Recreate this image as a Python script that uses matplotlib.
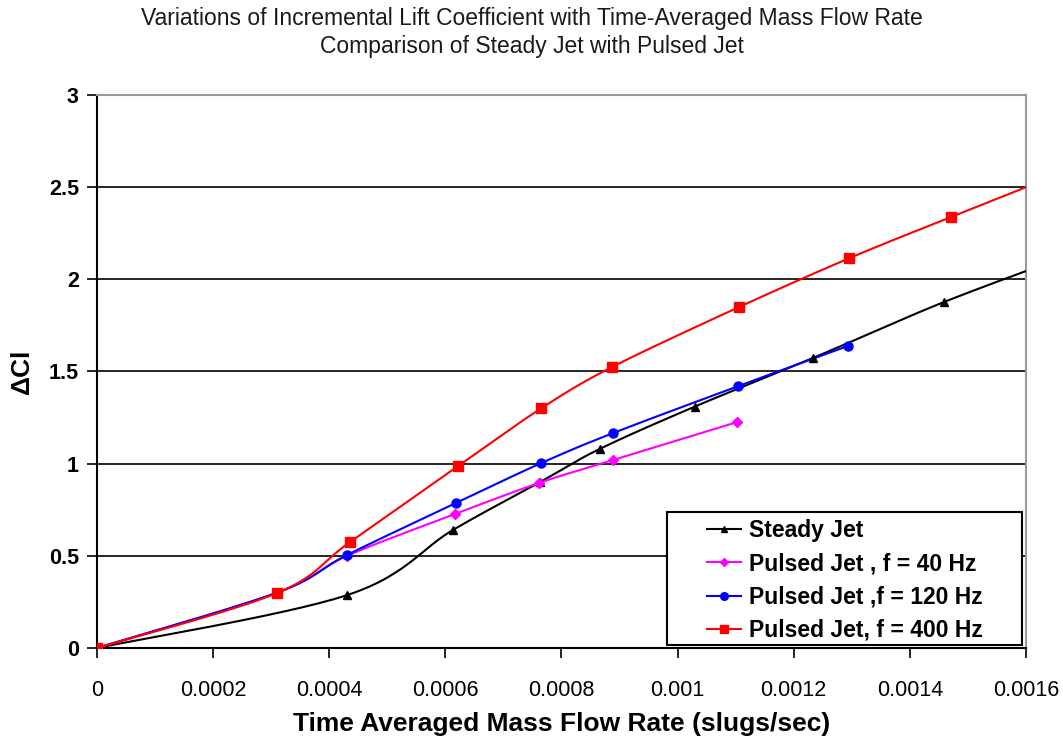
import numpy as np
import matplotlib
matplotlib.use("Agg")
import matplotlib.pyplot as plt
from matplotlib.patches import Rectangle

plt.rcParams['font.family'] = ['Liberation Sans', 'DejaVu Sans']

# Data
steady_x = [0.0, 0.000431, 0.000613, 0.000763, 0.000866, 0.00103, 0.001233, 0.001459, 0.00170]
steady_y = [0.0, 0.287, 0.64, 0.90, 1.08, 1.31, 1.573, 1.877, 2.16]

p40_x = [0.0, 0.00031, 0.000431, 0.000617, 0.000761, 0.000889, 0.001102]
p40_y = [0.0, 0.30, 0.50, 0.727, 0.895, 1.02, 1.225]

p120_x = [0.0, 0.00031, 0.000431, 0.000618, 0.000765, 0.000889, 0.001104, 0.001293]
p120_y = [0.0, 0.30, 0.505, 0.786, 1.003, 1.166, 1.42, 1.638]

p400_x = [0.0, 0.00031, 0.000436, 0.000622, 0.000765, 0.000887, 0.001106, 0.001296, 0.00147, 0.00170]
p400_y = [0.0, 0.298, 0.575, 0.987, 1.30, 1.524, 1.85, 2.115, 2.337, 2.625]

labels = ["Steady Jet", "Pulsed Jet , f = 40 Hz", "Pulsed Jet ,f = 120 Hz", "Pulsed Jet, f = 400 Hz"]
colors = ["black", "#FF00FF", "#0000FF", "#FF0000"]
markers = ["^", "D", "o", "s"]
msizes = [6, 5, 6.5, 7]

xticks = [0, 0.0002, 0.0004, 0.0006, 0.0008, 0.001, 0.0012, 0.0014, 0.0016]
xticklabels = ["0", "0.0002", "0.0004", "0.0006", "0.0008", "0.001", "0.0012", "0.0014", "0.0016"]
yticks = [0, 0.5, 1, 1.5, 2, 2.5, 3]
yticklabels = ["0", "0.5", "1", "1.5", "2", "2.5", "3"]


def smooth(xs, ys, n=30):
    """Excel-style smoothed line (cubic Bezier with Catmull-Rom control points)."""
    P = np.column_stack([xs, ys]).astype(float)
    out = []
    m = len(P)
    for i in range(m - 1):
        p0 = P[i - 1] if i > 0 else P[i]
        p1 = P[i]
        p2 = P[i + 1]
        p3 = P[i + 2] if i + 2 < m else P[i + 1]
        c1 = p1 + (p2 - p0) / 6.0
        c2 = p2 - (p3 - p1) / 6.0
        t = np.linspace(0, 1, n)[:, None]
        seg = ((1 - t) ** 3) * p1 + 3 * ((1 - t) ** 2) * t * c1 + 3 * (1 - t) * t ** 2 * c2 + t ** 3 * p2
        out.append(seg if i == 0 else seg[1:])
    S = np.vstack(out)
    return S[:, 0], S[:, 1]


fig = plt.figure(figsize=(10.63, 7.42), dpi=100)
ax = fig.add_axes([0.0912, 0.1267, 0.8740, 0.7453])

series = [(steady_x, steady_y), (p40_x, p40_y), (p120_x, p120_y), (p400_x, p400_y)]
for (xs, ys), lab, c, mk, ms in zip(series, labels, colors, markers, msizes):
    sx, sy = smooth(xs, ys)
    ax.plot(sx, sy, color=c, lw=1.5, zorder=3)
    ax.plot(xs, ys, linestyle='none', marker=mk, color=c, markersize=ms, zorder=4)
    ax.plot([], [], color=c, lw=1.5, marker=mk, markersize=ms - 1, label=lab)

ax.set_xlim(0, 0.0016)
ax.set_ylim(0, 3)
ax.set_xticks(xticks)
ax.set_xticklabels(xticklabels)
ax.set_yticks(yticks)
ax.set_yticklabels(yticklabels)
for lbl in ax.get_xticklabels():
    lbl.set_fontsize(15.5)
for lbl in ax.get_yticklabels():
    lbl.set_fontweight('bold')
    lbl.set_fontsize(15.5)
ax.tick_params(axis='x', direction='out', length=7, width=1.2, pad=16)
ax.tick_params(axis='y', direction='out', length=7, width=1.2, pad=6)

ax.grid(axis='y', color='black', lw=1.2, zorder=1)
ax.set_axisbelow(True)
ax.spines['left'].set_color('black')
ax.spines['left'].set_linewidth(1.5)
ax.spines['bottom'].set_color('black')
ax.spines['bottom'].set_linewidth(1.5)
ax.spines['top'].set_color('#999999')
ax.spines['top'].set_linewidth(1.5)
ax.spines['right'].set_color('#999999')
ax.spines['right'].set_linewidth(1.5)

ax.set_xlabel("Time Averaged Mass Flow Rate (slugs/sec)", fontsize=19, fontweight='bold', labelpad=8)
ax.set_ylabel("ΔCl", fontsize=19, fontweight='bold', labelpad=10)
ax.yaxis.set_label_coords(-0.068, 0.5)

fig.text(0.5, 0.975, "Variations of Incremental Lift Coefficient with Time-Averaged Mass Flow Rate",
         ha='center', va='center', fontsize=16.5, color='#1a1a1a')
fig.text(0.5, 0.937, "Comparison of Steady Jet with Pulsed Jet", ha='center', va='center',
         fontsize=16.5, color='#1a1a1a')

# legend box
box = Rectangle((0.6136, 0.005), 0.382, 0.2405, transform=ax.transAxes, facecolor='white',
                edgecolor='black', lw=1.5, zorder=5)
ax.add_patch(box)
leg = ax.legend(loc='center left', bbox_to_anchor=(0.6566, 0.122), frameon=False,
                prop={'weight': 'bold', 'size': 16.5}, borderpad=0, labelspacing=0.45,
                handlelength=1.5, handletextpad=0.35, borderaxespad=0)
leg.set_zorder(6)

fig.savefig("out.png", dpi=100)
